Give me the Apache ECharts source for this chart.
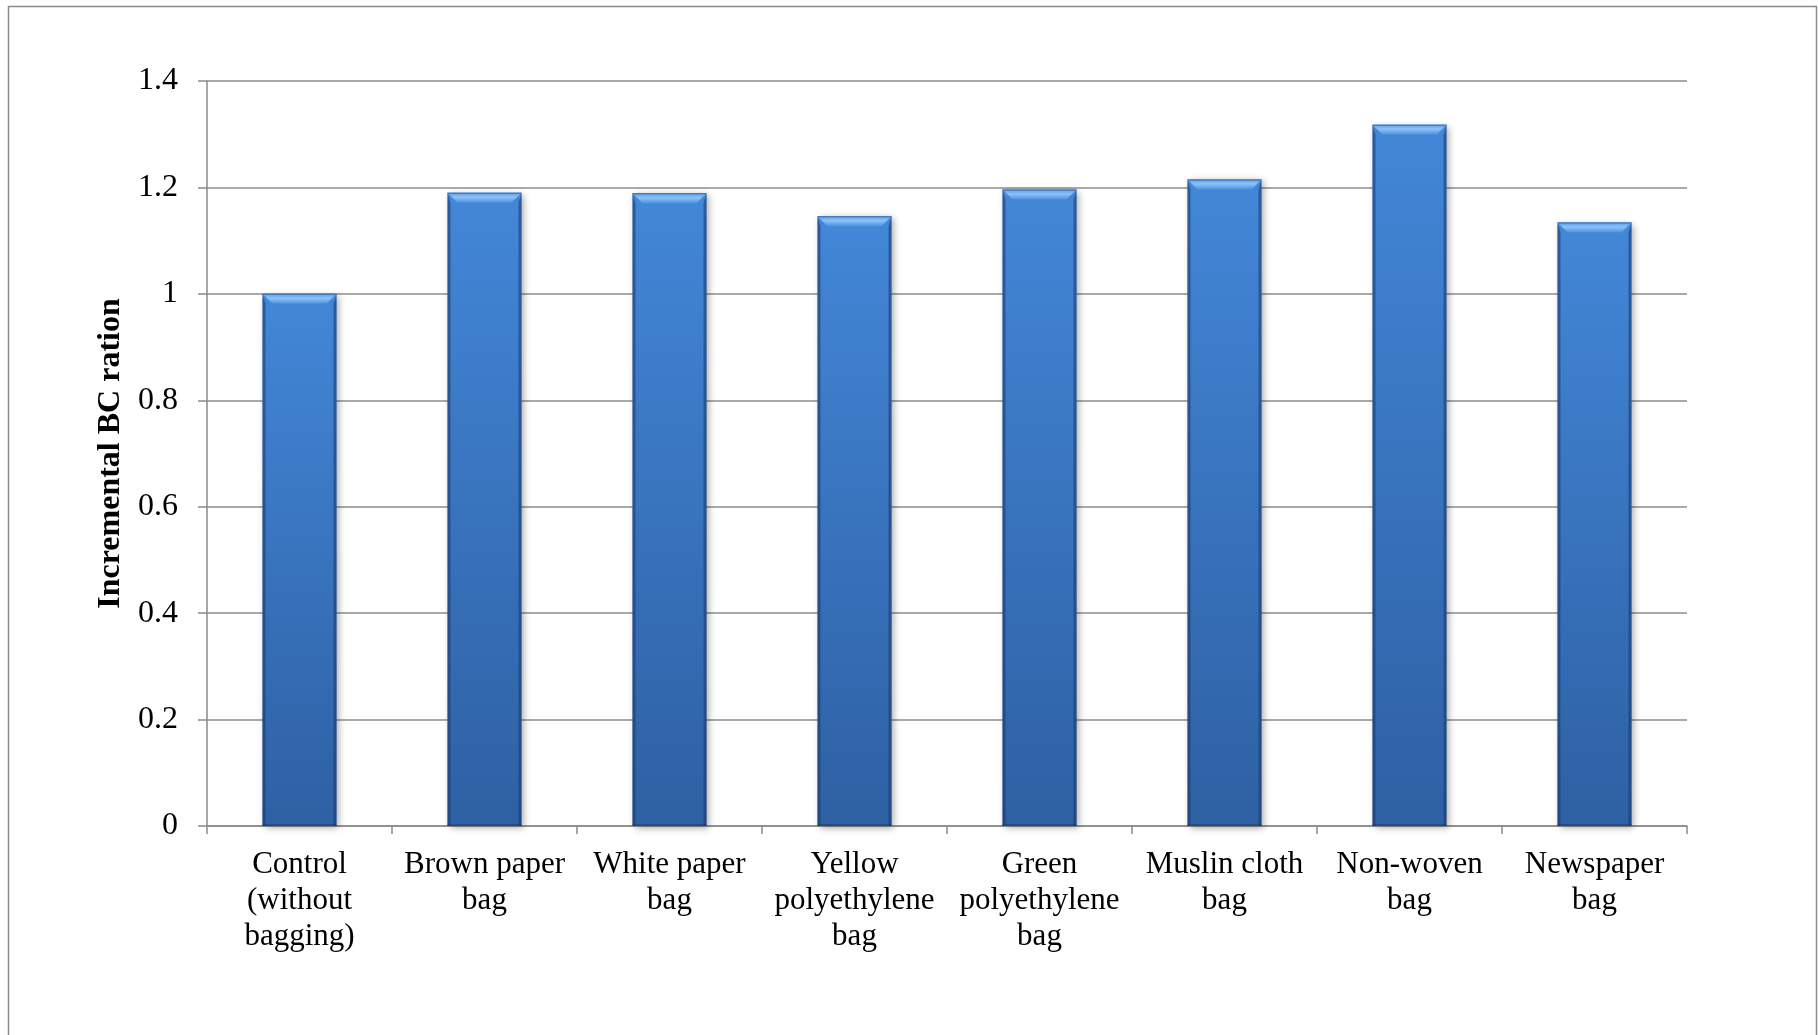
<!DOCTYPE html>
<html>
<head>
<meta charset="utf-8">
<title>Incremental BC ration</title>
<script src="https://cdn.jsdelivr.net/npm/echarts@6/dist/echarts.min.js"></script>
<style>
  html, body { margin: 0; padding: 0; background: #ffffff; }
  #chart { width: 1818px; height: 1035px; }
</style>
</head>
<body>
<div id="chart"></div>
<script>
// Bagging treatments and their incremental B:C ratio
const categories = [
  'Control\n(without\nbagging)',
  'Brown paper\nbag',
  'White paper\nbag',
  'Yellow\npolyethylene\nbag',
  'Green\npolyethylene\nbag',
  'Muslin cloth\nbag',
  'Non-woven\nbag',
  'Newspaper\nbag'
];
const bcRatio = [1.0, 1.19, 1.189, 1.146, 1.196, 1.215, 1.318, 1.134];
const yTicks = { min: 0, max: 1.4, interval: 0.2 };

const FONT = '"Liberation Serif", "Times New Roman", serif';
const chart = echarts.init(document.getElementById('chart'), null, { renderer: 'canvas' });

// Draws one bevelled column from the axis scales
function renderBevelBar(params, api) {
  const idx = api.value(0);
  const val = api.value(1);
  const top = api.coord([idx, val]);
  const base = api.coord([idx, 0]);
  const bandW = api.size([1, 0])[0];
  const w = bandW * 0.4;
  const x0 = top[0] - w / 2;
  const x1 = top[0] + w / 2;
  const y0 = top[1];
  const y1 = base[1];
  const b = 10;  // top bevel depth
  const s = 3;   // side edge width
  return {
    type: 'group',
    children: [
      {
        type: 'rect',
        shape: { x: x0, y: y0, width: w, height: y1 - y0 },
        style: {
          fill: new echarts.graphic.LinearGradient(0, 0, 0, 1, [
            { offset: 0, color: '#4387d8' },
            { offset: 1, color: '#2e60a3' }
          ]),
          shadowBlur: 7,
          shadowOffsetX: 2,
          shadowOffsetY: 2,
          shadowColor: 'rgba(0,0,0,0.35)'
        }
      },
      {
        type: 'polygon',
        shape: { points: [[x0, y0], [x0 + s, y0 + b], [x0 + s, y1], [x0, y1]] },
        style: { fill: 'rgba(25,55,105,0.55)' }
      },
      {
        type: 'polygon',
        shape: { points: [[x1, y0], [x1 - s, y0 + b], [x1 - s, y1], [x1, y1]] },
        style: { fill: 'rgba(25,55,105,0.55)' }
      },
      {
        type: 'polygon',
        shape: { points: [[x0, y0], [x1, y0], [x1 - b, y0 + b], [x0 + b, y0 + b]] },
        style: {
          fill: new echarts.graphic.LinearGradient(0, 0, 0, 1, [
            { offset: 0, color: '#5d9de6' },
            { offset: 0.45, color: '#8cc3f7' },
            { offset: 1, color: '#4f91e0' }
          ])
        }
      },
      {
        type: 'rect',
        shape: { x: x0, y: y0, width: w, height: 1 },
        style: { fill: '#3a6fb3' }
      },
      {
        type: 'rect',
        shape: { x: x0, y: y1 - 2, width: w, height: 2 },
        style: { fill: 'rgba(25,55,105,0.5)' }
      }
    ]
  };
}

const option = {
  backgroundColor: '#ffffff',
  animation: false,
  graphic: [
    {
      type: 'rect',
      silent: true,
      shape: { x: 8.5, y: 6.5, width: 1808, height: 1100 },
      style: { fill: 'none', stroke: '#8a8a8a', lineWidth: 1.5 }
    }
  ],
  grid: { left: 207, right: 131, top: 81, bottom: 209, containLabel: false },
  xAxis: {
    type: 'category',
    data: categories,
    boundaryGap: true,
    axisLine: { show: true, lineStyle: { color: '#8a8a8a', width: 1.5 } },
    axisTick: { show: true, length: 8, lineStyle: { color: '#8a8a8a', width: 1.5 } },
    axisLabel: {
      interval: 0,
      margin: 21,
      fontFamily: FONT,
      fontSize: 31,
      lineHeight: 36,
      color: '#000000',
      align: 'center'
    },
    splitLine: { show: false }
  },
  yAxis: {
    type: 'value',
    min: yTicks.min,
    max: yTicks.max,
    interval: yTicks.interval,
    name: 'Incremental BC ration',
    nameLocation: 'middle',
    nameGap: 75,
    nameRotate: 90,
    nameTextStyle: {
      fontFamily: FONT,
      fontSize: 32,
      fontWeight: 'bold',
      color: '#000000'
    },
    axisLine: { show: true, lineStyle: { color: '#8a8a8a', width: 1.5 } },
    axisTick: { show: true, length: 9, lineStyle: { color: '#8a8a8a', width: 1.5 } },
    axisLabel: {
      margin: 29,
      fontFamily: FONT,
      fontSize: 32,
      color: '#000000',
      formatter: function (v) { return String(Math.round(v * 10) / 10); }
    },
    splitLine: { show: true, lineStyle: { color: '#8c8c8c', width: 1.5 } }
  },
  series: [
    {
      type: 'custom',
      name: 'Incremental BC ration',
      renderItem: renderBevelBar,
      encode: { x: 0, y: 1 },
      data: bcRatio.map(function (v, i) { return [i, v]; }),
      z: 3
    }
  ]
};

chart.setOption(option);
</script>
</body>
</html>
